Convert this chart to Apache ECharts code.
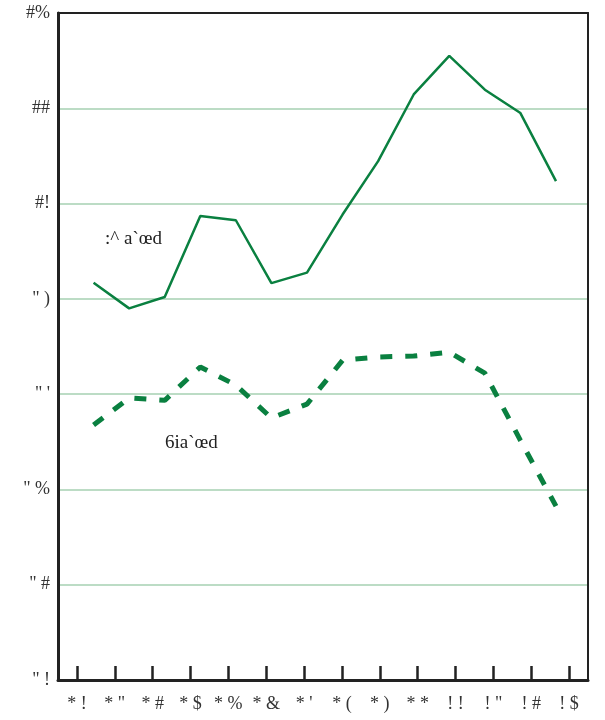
<!DOCTYPE html>
<html>
<head>
<meta charset="utf-8">
<script src="https://cdn.jsdelivr.net/npm/echarts@6/dist/echarts.min.js"></script>
<style>
html,body{margin:0;padding:0;background:#fff;}
#chart{width:605px;height:720px;}
</style>
</head>
<body>
<div id="chart"></div>
<script>
var xLabels = ['* !', '* "', '* #', '* $', '* %', '* &', "* '", '* (', '* )', '* *', '! !', '! "', '! #', '! $'];
var yTickValues = [10, 12, 14, 16, 18, 20, 22, 24];
var yTickLabels = ['" !', '" #', '" %', "\" '", '" )', '#!', '##', '#%'];
var seriesANames = ':^ a`œd';
var seriesBNames = '6ia`œd';
var seriesA = [18.34, 17.80, 18.04, 19.74, 19.65, 18.33, 18.55, 19.77, 20.89, 22.29, 23.10, 22.39, 21.90, 20.47];
var seriesB = [15.35, 15.92, 15.87, 16.57, 16.19, 15.50, 15.79, 16.71, 16.78, 16.80, 16.88, 16.44, 15.03, 13.65];

var green = '#0a8040';
var font = 'Liberation Serif';
function pts(arr){ return arr.map(function(v,i){ return [i, v]; }); }

var chart = echarts.init(document.getElementById('chart'));
chart.setOption({
  animation: false,
  backgroundColor: '#fff',
  grid: { left: 58, right: 17, top: 13, bottom: 40 },
  xAxis: [{
    type: 'category', data: xLabels, boundaryGap: true, position: 'bottom',
    axisLine: { show: true, onZero: false, lineStyle: { color: '#222', width: 3 } },
    axisTick: { show: true, inside: true, alignWithLabel: true, interval: 0, length: 14, lineStyle: { color: '#222', width: 2.5 } },
    axisLabel: { color: '#333', fontFamily: font, fontSize: 18, margin: 15, interval: 0 },
    splitLine: { show: false }
  }, {
    type: 'value', min: -1, max: 13.9, show: false
  }, {
    type: 'category', data: xLabels, position: 'top',
    axisLine: { show: true, onZero: false, lineStyle: { color: '#222', width: 2 } },
    axisTick: { show: false }, axisLabel: { show: false }, splitLine: { show: false }
  }],
  yAxis: [{
    type: 'value', min: 10, max: 24, interval: 2,
    axisLine: { show: true, onZero: false, lineStyle: { color: '#222', width: 3 } },
    axisTick: { show: false },
    axisLabel: { color: '#333', fontFamily: font, fontSize: 18, margin: 8, padding: [3, 0, 0, 0],
      formatter: function(v){ var k = yTickValues.indexOf(v); return k >= 0 ? yTickLabels[k] : ''; } },
    splitLine: { lineStyle: { color: '#bcdcc5', width: 2 } }
  }, {
    type: 'value', min: 10, max: 24, position: 'right',
    axisLine: { show: true, onZero: false, lineStyle: { color: '#222', width: 2 } },
    axisTick: { show: false }, axisLabel: { show: false }, splitLine: { show: false }
  }],
  series: [{
    type: 'line', xAxisIndex: 1, yAxisIndex: 0, data: pts(seriesA), symbol: 'none',
    lineStyle: { color: green, width: 2.5 }
  }, {
    type: 'line', xAxisIndex: 1, yAxisIndex: 0, data: pts(seriesB), symbol: 'none',
    lineStyle: { color: green, width: 5, type: [12, 13], cap: 'butt' }
  }],
  graphic: [{
    type: 'text', left: 105, top: 230,
    style: { text: seriesANames, font: '19px "Liberation Serif"', fill: '#222' }
  }, {
    type: 'text', left: 165, top: 434,
    style: { text: seriesBNames, font: '19px "Liberation Serif"', fill: '#222' }
  }]
});
</script>
</body>
</html>
